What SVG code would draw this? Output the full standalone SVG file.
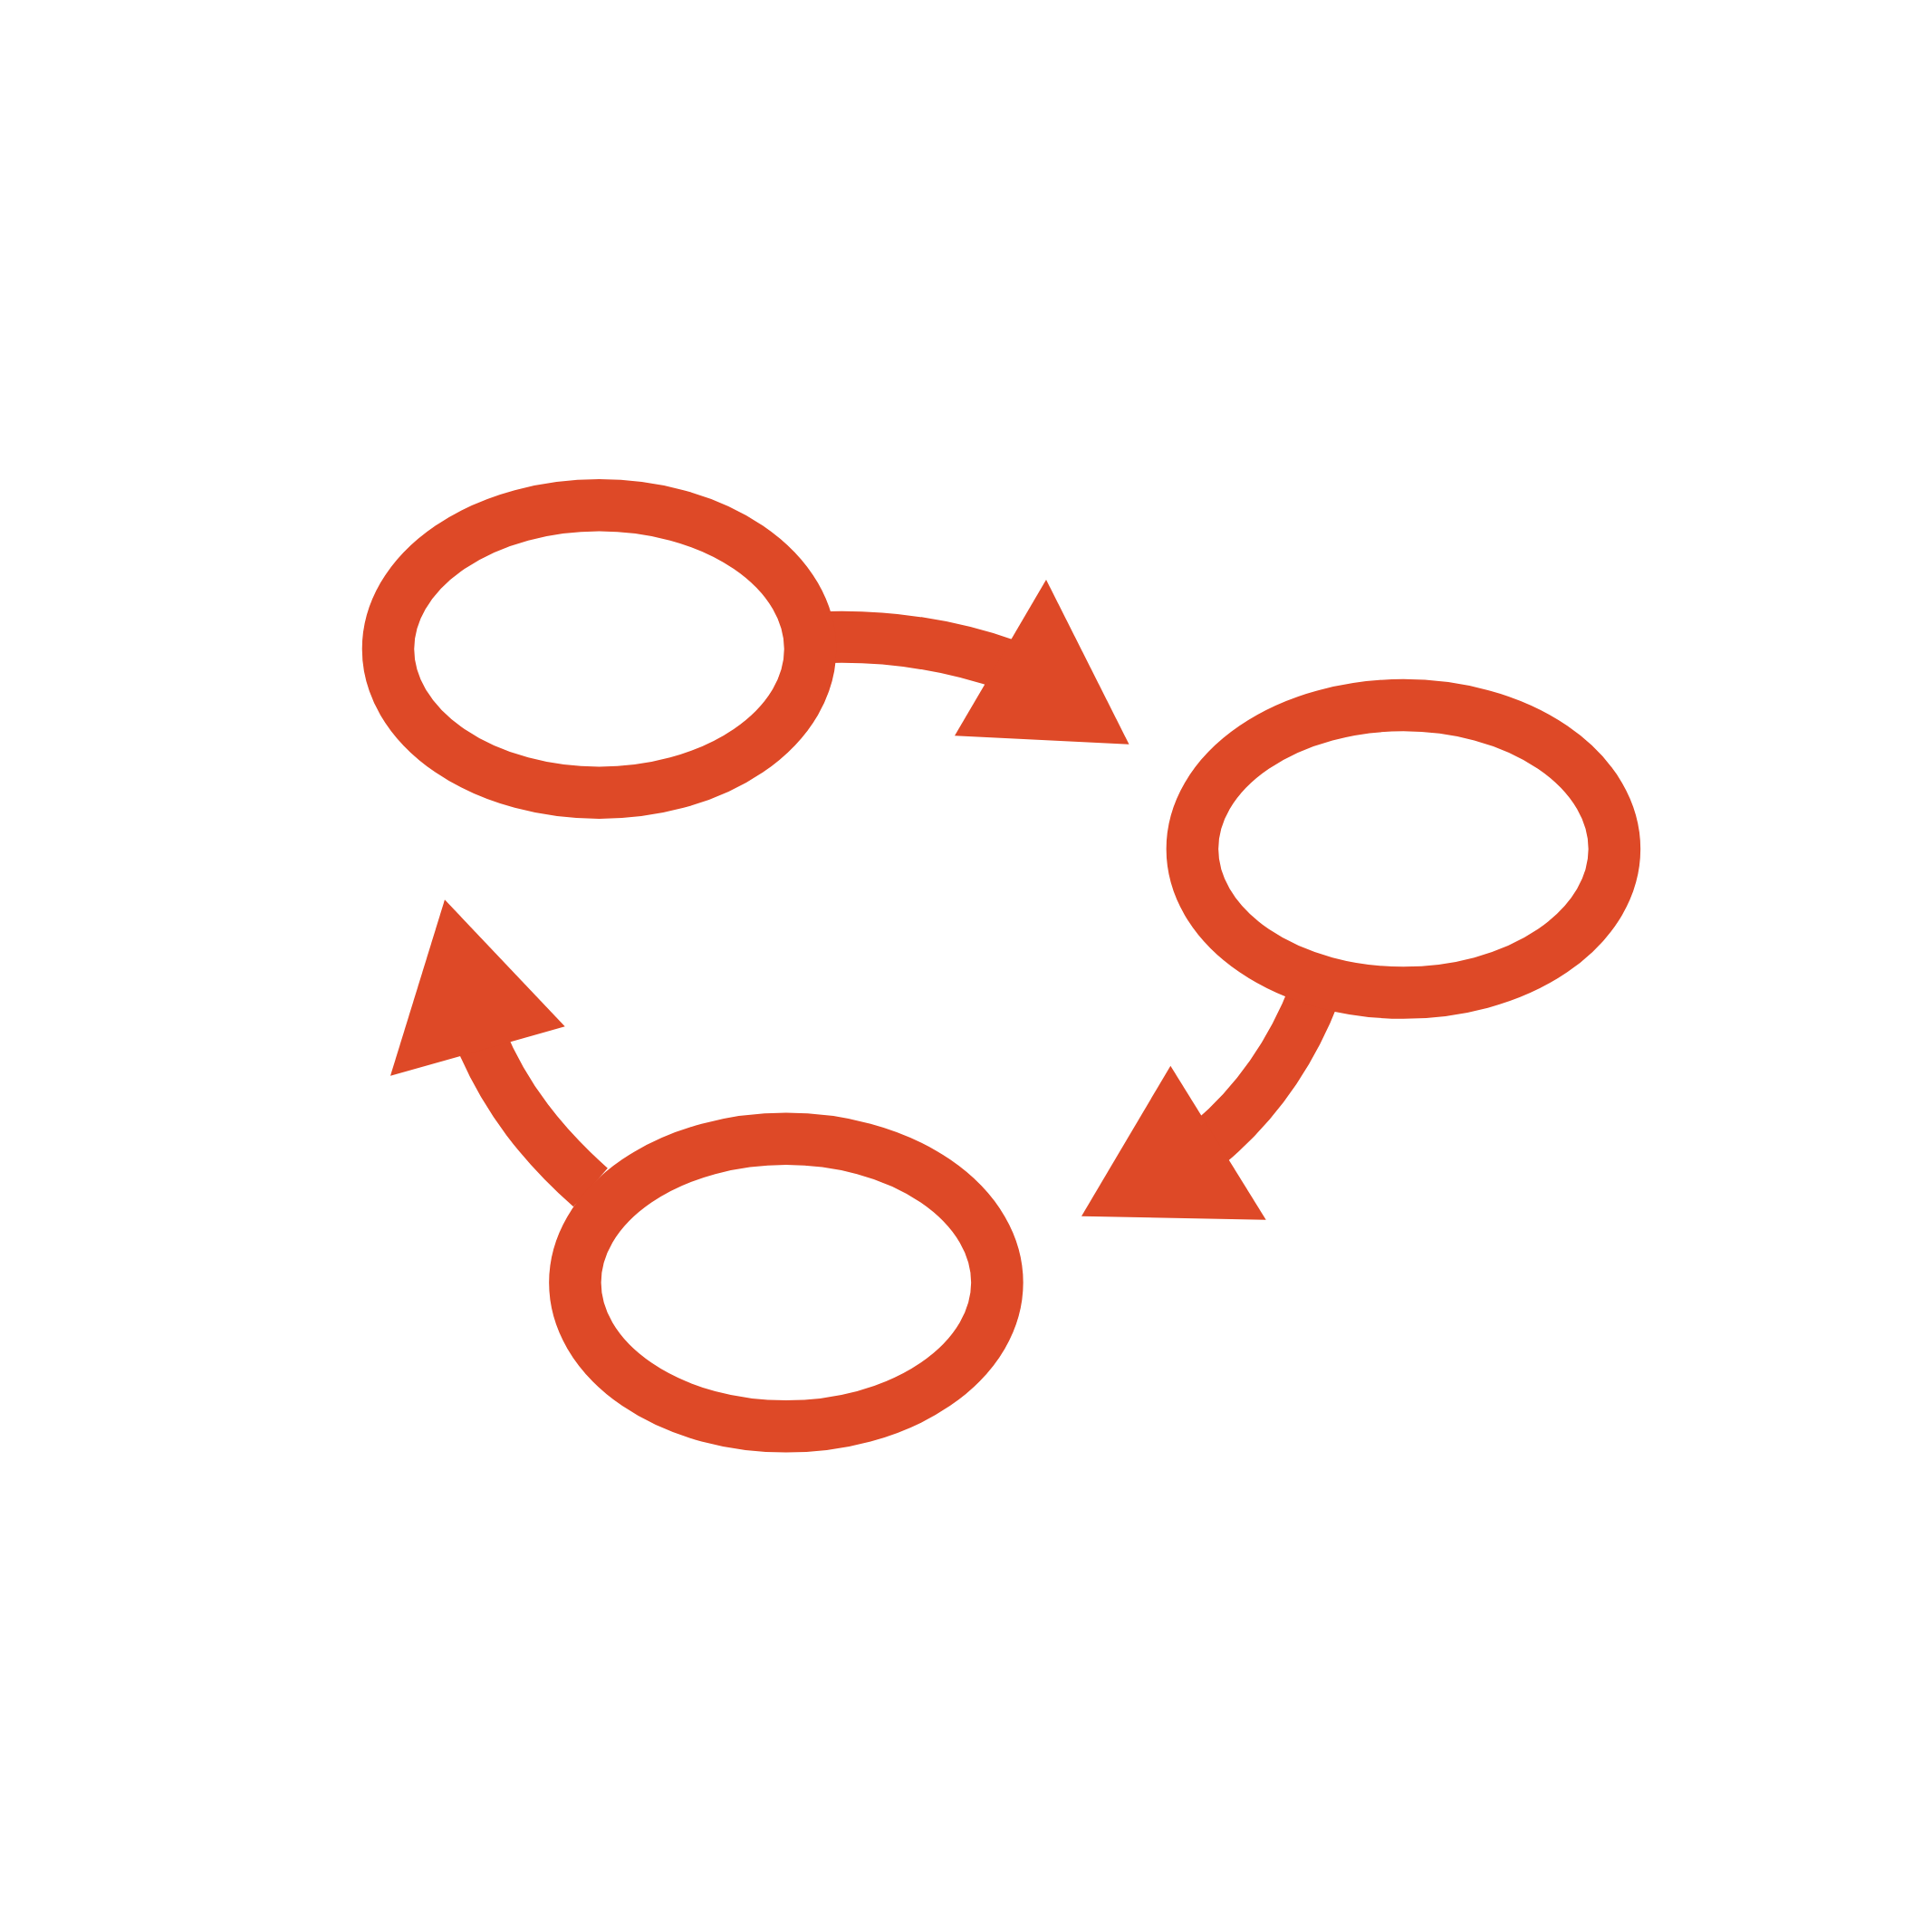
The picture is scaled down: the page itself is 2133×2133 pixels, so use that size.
<svg xmlns="http://www.w3.org/2000/svg" width="2133" height="2133" viewBox="0 0 2133 2133">
<style>
.node{fill:none;stroke:#DE4927;stroke-width:57.5}
.shaft{fill:none;stroke:#DE4927;stroke-width:57;stroke-linecap:butt}
.head{fill:#DE4927;stroke:none}
</style>
<rect width="2133" height="2133" fill="#fff"/>
<g id="connectors">
<path class="shaft" d="M 900 704 C 980 700, 1050 712, 1115 735"/>
<polygon class="head" points="1155,640 1246.5,821.7 1054,812.3"/>
<path class="shaft" d="M 1452 1095 C 1425 1165, 1385 1220, 1335 1262"/>
<polygon class="head" points="1292.3,1176.7 1397.7,1346.7 1194,1342.7"/>
<path class="shaft" d="M 530 1145 C 558 1213, 600 1265, 652 1311"/>
<polygon class="head" points="491,993.3 623.7,1133.3 431,1187.7"/>
</g>
<g id="node1"><ellipse class="node" cx="661.5" cy="716.5" rx="233" ry="158.75"/></g>
<g id="node2"><ellipse class="node" cx="1549.4" cy="937.3" rx="233" ry="158.75"/></g>
<g id="node3"><ellipse class="node" cx="867.9" cy="1416.1" rx="233" ry="158.75"/></g>
</svg>
